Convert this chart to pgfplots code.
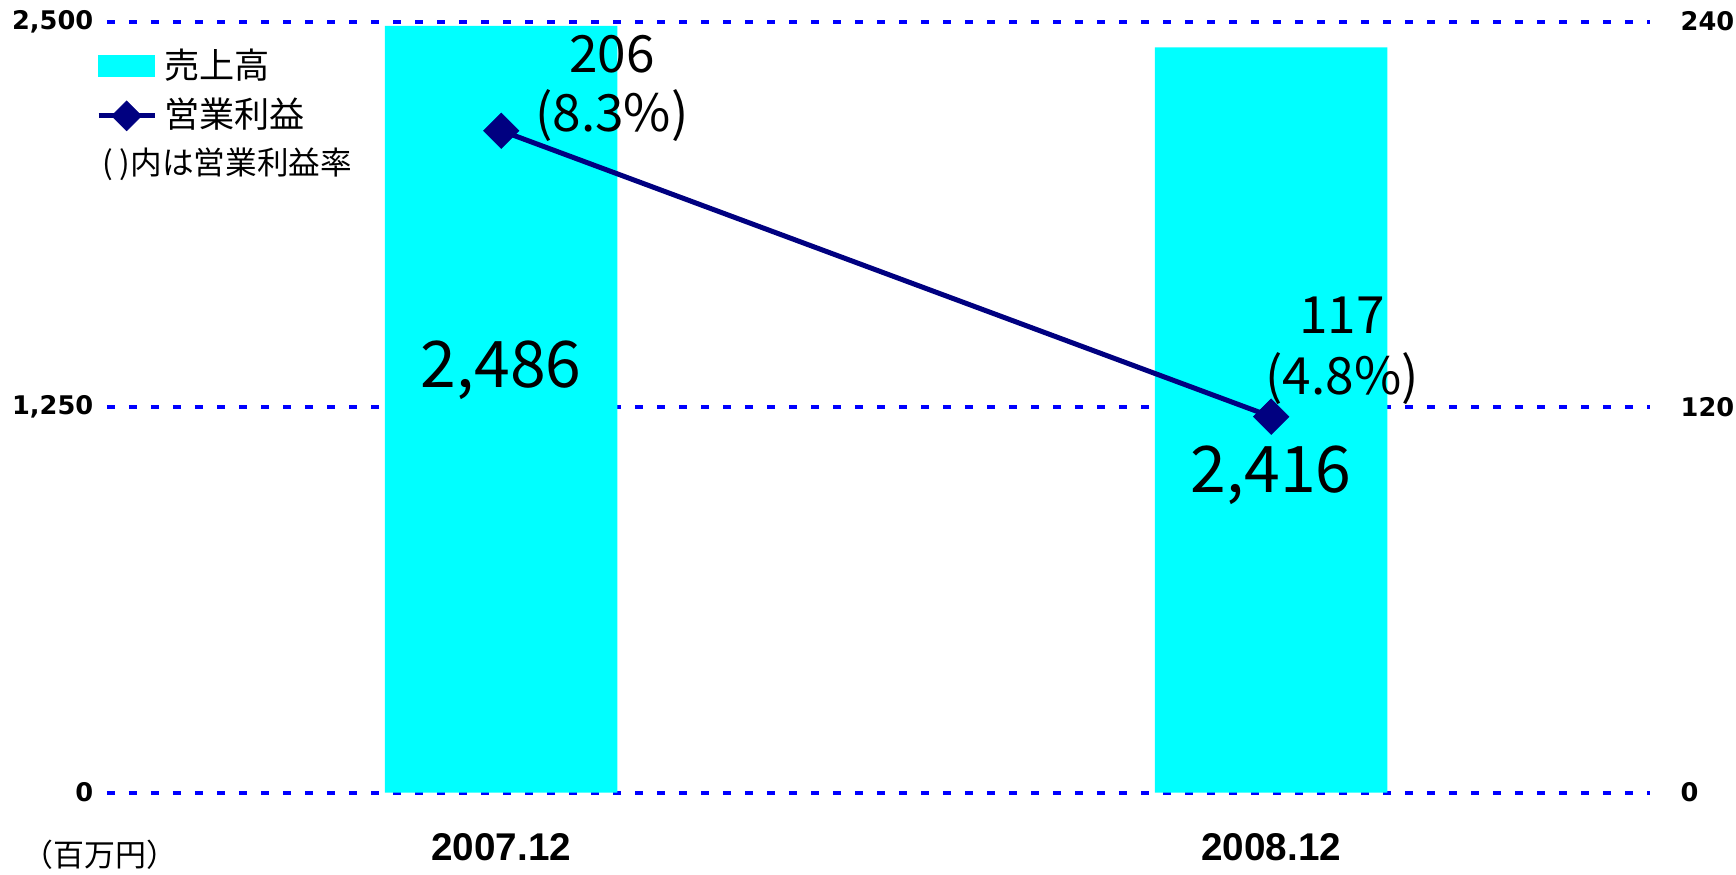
\documentclass[border=0pt]{standalone}
\usepackage{fontspec}
\setmainfont{Noto Sans CJK JP}
\newfontfamily\tickfont{DejaVu Sans}
\newfontfamily\catfont{Liberation Sans}
\usepackage{pgfplots}
\pgfplotsset{compat=1.18}

\definecolor{barcyan}{RGB}{0,255,255}
\definecolor{linenavy}{RGB}{0,0,128}
\definecolor{gridblue}{RGB}{0,0,255}

\begin{document}
\begin{tikzpicture}[x=1mm,y=1mm]
\pgfplotsset{
  every axis/.append style={
    scale only axis, width=154.3mm, height=77.1mm,
    xmin=-0.512, xmax=1.492,
    axis line style={draw=none},
    tick style={draw=none},
    /pgf/number format/assume math mode=true,
    /pgf/number format/1000 sep={,},
    clip=false,
  },
}
% sales (left axis)
\begin{axis}[
  name=ax,
  ymin=0, ymax=2500,
  ytick={0,1250,2500},
  ymajorgrids,
  grid style={gridblue, line width=0.4mm, dash pattern=on 0.8mm off 1.4mm},
  xtick={0,1},
  xticklabels={2007.12,2008.12},
  axis x line*=bottom, axis y line*=left,
  yticklabel style={font=\tickfont\bfseries\fontsize{7.3}{8}\selectfont,
    inner sep=0pt, xshift=-1.3mm},
  xticklabel style={font=\catfont\bfseries\fontsize{11}{13}\selectfont,
    inner sep=0pt, yshift=-4.0mm},
]
\addplot[ybar, bar width=0.302, fill=barcyan, draw=none] coordinates {(0,2486) (1,2416)};
\node[font=\fontsize{18.3}{22}\selectfont] at (axis cs:0,1370) {2,486};
\node[font=\fontsize{18.3}{22}\selectfont] at (axis cs:1,1030) {2,416};
\node[overlay, inner sep=0pt, font=\fontsize{8.8}{10}\selectfont]
  at (rel axis cs:-0.0045,-0.081) {（百万円）};
\end{axis}
% operating profit (right axis)
\begin{axis}[
  ymin=0, ymax=240,
  ytick={0,120,240},
  axis x line=none, axis y line*=right,
  yticklabel style={font=\tickfont\bfseries\fontsize{7.3}{8}\selectfont,
    inner sep=0pt, xshift=3.0mm},
  legend cell align=left,
  legend style={at={(rel axis cs:-0.0075,0.975)}, anchor=north west,
    draw=none, fill=none, inner sep=0pt, row sep=0.1mm,
    font=\fontsize{10}{12}\selectfont},
]
\addlegendimage{legend image code/.code={\fill[barcyan] (0mm,-1mm) rectangle (5.6mm,1mm);}}
\addlegendentry{売上高}
\addplot[linenavy, line width=0.5mm, mark=square*,
  mark options={rotate=45, line width=0.2pt}, mark size=1.25mm,
  legend image code/.code={\draw[mark repeat=2, mark phase=2, mark size=1.05mm]
    plot coordinates {(0mm,0mm) (2.8mm,0mm) (5.6mm,0mm)};}]
  coordinates {(0,206) (1,117)};
\addlegendentry{営業利益}
\addlegendimage{empty legend}
\addlegendentry{\hspace*{-6.2mm}{\fontsize{9}{11}\selectfont( )内は営業利益率}}
\node[font=\fontsize{14.6}{18}\selectfont] at (axis cs:0.1436,229.7) {206};
\node[font=\fontsize{14.6}{18}\selectfont] at (axis cs:0.1436,210.7) {(8.3\%)};
\node[font=\fontsize{14.6}{18}\selectfont] at (axis cs:1.092,148.5) {117};
\node[font=\fontsize{14.6}{18}\selectfont] at (axis cs:1.092,128.9) {(4.8\%)};
\end{axis}
\path (ax.south west) ++(-10.7,-8.2) rectangle ++(173.6,87.45);
\end{tikzpicture}
\end{document}
